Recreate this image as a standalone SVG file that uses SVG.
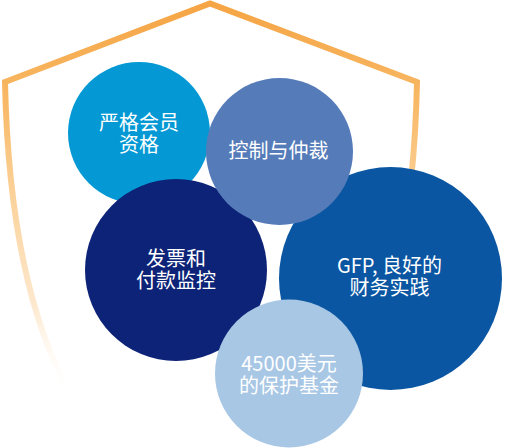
<svg xmlns="http://www.w3.org/2000/svg" width="510" height="448" viewBox="0 0 510 448">
<defs>
<linearGradient id="shieldGrad" gradientUnits="userSpaceOnUse" x1="0" y1="0" x2="0" y2="395">
<stop offset="0" stop-color="#F5A443"/>
<stop offset="0.25" stop-color="#F8B865"/>
<stop offset="0.5" stop-color="#FBD29B"/>
<stop offset="0.78" stop-color="#FDE9D0"/>
<stop offset="1" stop-color="#FFFFFF" stop-opacity="0"/>
</linearGradient>
</defs>
<style>
.lbl{font-family:"Noto Sans CJK SC","Noto Sans",sans-serif;font-size:20px;fill:#FFFFFF;text-anchor:middle}
</style>
<rect width="510" height="448" fill="#FFFFFF"/>
<g id="shield">
<path d="M70,395 C30,320 8,220 5,82 L210,3.5 L417,82 C414,220 392,320 352,395" fill="none" stroke="url(#shieldGrad)" stroke-width="6" stroke-linejoin="miter" stroke-miterlimit="10"/>
</g>
<g id="connectors"/>
<g id="node-membership">
<circle cx="139" cy="133" r="71" fill="#0499D4"/>
<text class="lbl"><tspan x="139" y="129.5">严格会员</tspan><tspan x="139" y="152">资格</tspan></text>
</g>
<g id="node-invoice">
<circle cx="176" cy="270" r="91" fill="#0C2377"/>
<text class="lbl"><tspan x="176" y="265.6">发票和</tspan><tspan x="176" y="288">付款监控</tspan></text>
</g>
<g id="node-gfp">
<circle cx="390.5" cy="278.5" r="111.5" fill="#0A56A2"/>
<text class="lbl"><tspan x="389.5" y="272.7">GFP, 良好的</tspan><tspan x="389.5" y="295.3">财务实践</tspan></text>
</g>
<g id="node-control">
<circle cx="279.5" cy="151.5" r="73.5" fill="#557CB9"/>
<text class="lbl" x="278.5" y="158.3">控制与仲裁</text>
</g>
<g id="node-fund">
<circle cx="289" cy="373.5" r="74" fill="#A8C7E5"/>
<text class="lbl"><tspan x="289" y="370.7">45000美元</tspan><tspan x="289" y="393.3">的保护基金</tspan></text>
</g>
</svg>
